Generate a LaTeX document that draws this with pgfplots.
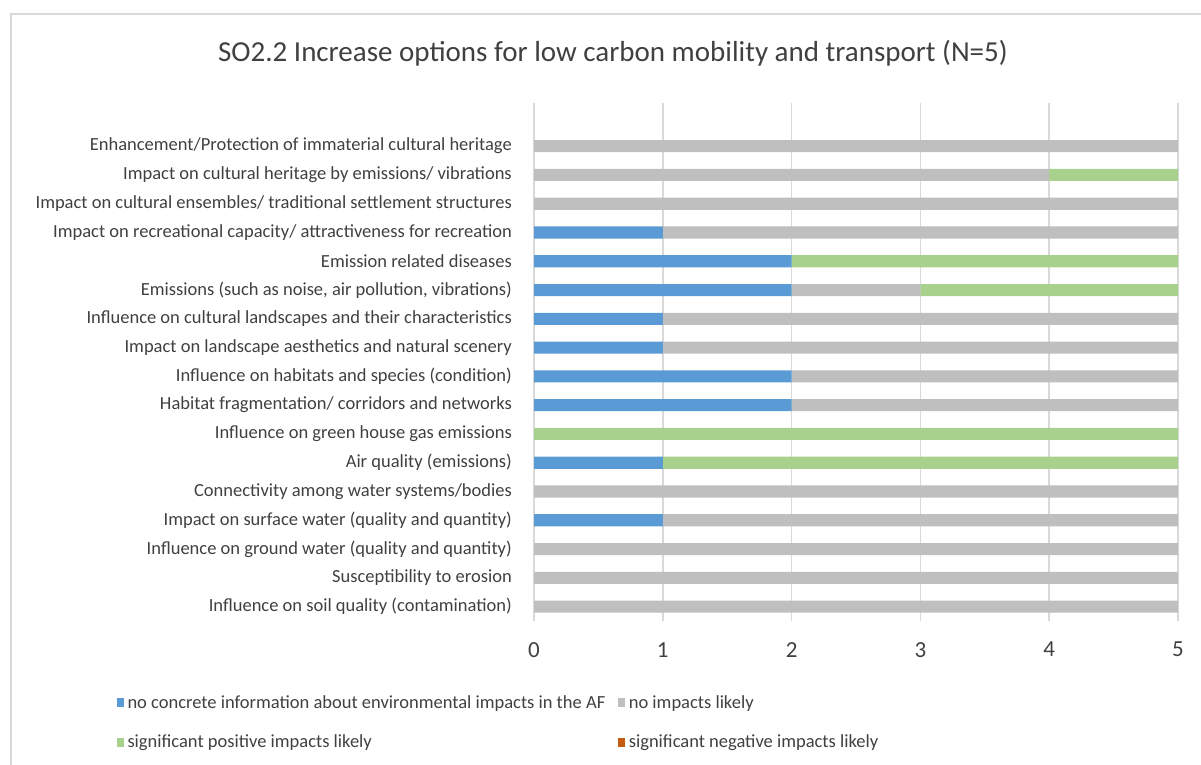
\documentclass[border=0pt]{standalone}
\usepackage{fontspec}
\setmainfont{Carlito}
\usepackage{pgfplots}
\usepackage{pgfplotstable}
\pgfplotsset{compat=1.18}

\definecolor{cBlue}{HTML}{5B9BD5}
\definecolor{cGray}{HTML}{BFBFBF}
\definecolor{cGreen}{HTML}{A9D18E}
\definecolor{cOrange}{HTML}{C55A11}
\definecolor{cText}{HTML}{404040}
\definecolor{cGrid}{HTML}{D9D9D9}

% idx: category (bottom to top), nci: no concrete information,
% none: no impacts likely, pos: significant positive, neg: significant negative
\pgfplotstableread{
idx nci none pos neg
0   0   5    0   0
1   0   5    0   0
2   0   5    0   0
3   1   4    0   0
4   0   5    0   0
5   1   0    4   0
6   0   0    5   0
7   2   3    0   0
8   2   3    0   0
9   1   4    0   0
10  1   4    0   0
11  2   1    2   0
12  2   0    3   0
13  1   4    0   0
14  0   5    0   0
15  0   4    1   0
16  0   5    0   0
}\impacts

\begin{document}
\begin{tikzpicture}
\useasboundingbox (0pt,0pt) rectangle (1201pt,765pt);
\draw[cGrid, line width=1.5pt] (11pt,0pt) -- (11pt,751pt) -- (1201pt,751pt);
\node[text=cText, font=\fontsize{29}{34}\selectfont] at (613pt,712pt)
  {SO2.2 Increase options for low carbon mobility and transport (N=5)};
\begin{axis}[
  at={(534pt,144pt)}, anchor=south west,
  scale only axis, width=644pt, height=518pt,
  xbar stacked, bar width=0.42,
  xmin=0, xmax=5, ymin=-0.5, ymax=17.5,
  xtick={0,1,2,3,4,5},
  ytick={0,...,16},
  yticklabels={
    {Influence on soil quality (contamination)},
    {Susceptibility to erosion},
    {Influence on ground water (quality and quantity)},
    {Impact on surface water (quality and quantity)},
    {Connectivity among water systems/bodies},
    {Air quality (emissions)},
    {Influence on green house gas emissions},
    {Habitat fragmentation/ corridors and networks},
    {Influence on habitats and species (condition)},
    {Impact on landscape aesthetics and natural scenery},
    {Influence on cultural landscapes and their characteristics},
    {Emissions (such as noise, air pollution, vibrations)},
    {Emission related diseases},
    {Impact on recreational capacity/ attractiveness for recreation},
    {Impact on cultural ensembles/ traditional settlement structures},
    {Impact on cultural heritage by emissions/ vibrations},
    {Enhancement/Protection of immaterial cultural heritage}},
  axis line style={draw=none},
  major tick length=0pt,
  xmajorgrids, major grid style={cGrid, line width=1.5pt},
  /pgf/number format/assume math mode=true,
  x tick label style={font=\fontsize{23}{27}\selectfont, text=cText, inner sep=0pt, yshift=-21pt},
  y tick label style={font=\fontsize{18.5}{22}\selectfont, text=cText, inner sep=0pt, anchor=east, xshift=-22pt},
  legend columns=2,
  legend cell align=left,
  legend image code/.code={\fill[#1] (0pt,-4.5pt) rectangle (6.5pt,4.5pt);
    \path (0pt,0pt) -- (8.5pt,0pt);},
  legend style={draw=none, fill=none, inner sep=0pt, outer sep=0pt,
    at={(axis description cs:-0.6475,-0.140)}, anchor=north west,
    font=\fontsize{18.5}{22}\selectfont, text=cText,
    row sep=21pt,
    /tikz/every even column/.append style={column sep=11pt}},
]
\addplot[fill=cBlue, draw=none] table[x=nci, y=idx] {\impacts};
\addplot[fill=cGray, draw=none] table[x=none, y=idx] {\impacts};
\addplot[fill=cGreen, draw=none] table[x=pos, y=idx] {\impacts};
\addplot[fill=cOrange, draw=none] table[x=neg, y=idx] {\impacts};
\legend{no concrete information about environmental impacts in the AF,
  no impacts likely, significant positive impacts likely,
  significant negative impacts likely}
\end{axis}
\end{tikzpicture}
\end{document}
